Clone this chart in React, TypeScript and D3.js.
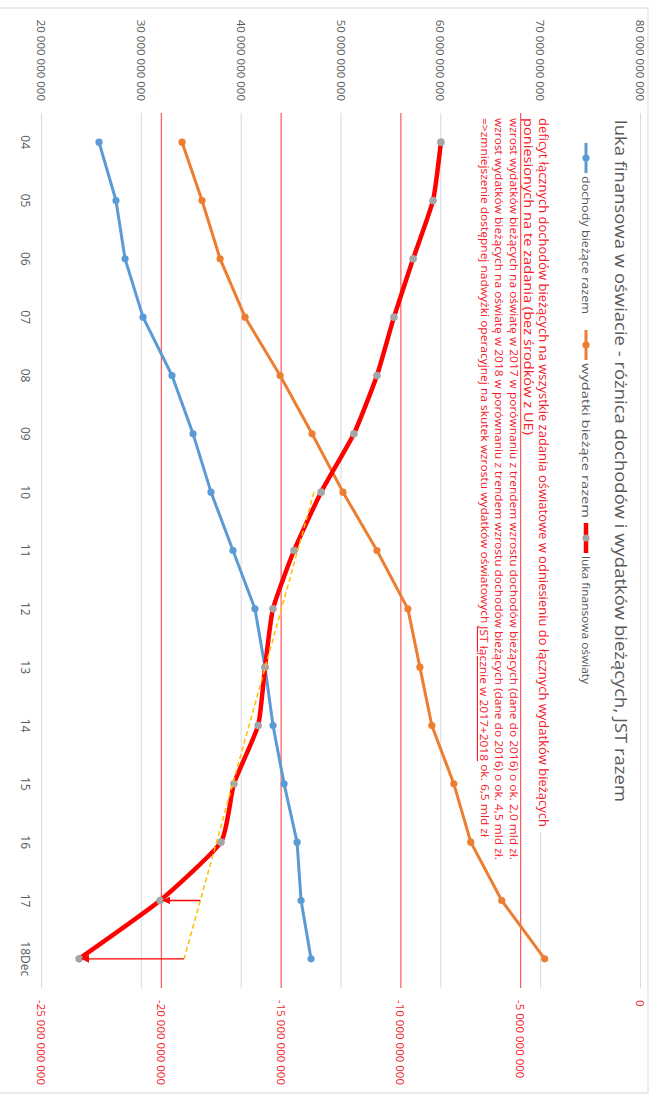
import React from 'react';
import * as d3 from 'd3';

const categories = ['04', '05', '06', '07', '08', '09', '10', '11', '12', '13', '14', '15', '16', '17', '18Dec'];
const dochody = [25.76e9, 27.46e9, 28.37e9, 30.17e9, 33.07e9, 35.18e9, 36.98e9, 39.18e9, 41.38e9, 42.39e9, 43.19e9, 44.3e9, 45.6e9, 46.0e9, 47.0e9];
const wydatki = [34.08e9, 36.08e9, 37.89e9, 40.39e9, 43.9e9, 47.1e9, 50.2e9, 53.6e9, 56.7e9, 57.9e9, 59.1e9, 61.3e9, 63.0e9, 66.1e9, 70.4e9];
const luka = [-8.33e9, -8.66e9, -9.49e9, -10.29e9, -11.0e9, -11.96e9, -13.33e9, -14.46e9, -15.34e9, -15.67e9, -15.96e9, -16.97e9, -17.51e9, -20.05e9, -23.43e9];
const trendCats = ['10', '18Dec'];
const trendValues = [-13.63e9, -19.05e9];
const arrowCats = ['17', '18Dec'];
const leftTicks = [20e9, 30e9, 40e9, 50e9, 60e9, 70e9, 80e9];
const rightTicks = [-25e9, -20e9, -15e9, -10e9, -5e9, 0];
const redGridTicks = [-20e9, -15e9, -10e9, -5e9];

const title = 'luka finansowa w oświacie - różnica dochodów i wydatków bieżących,  JST razem';
const legendLabels = ['dochody bieżące razem', 'wydatki bieżące razem', 'luka finansowa oświaty'];
const noteLines = [
  'deficyt łącznych dochodów bieżących na wszystkie zadania oświatowe w odniesieniu do łącznych wydatków bieżących',
  'poniesionych na te zadania (bez środków z UE)',
  'wzrost wydatków bieżących na oświatę w 2017 w porównaniu z trendem wzrostu dochodów bieżących (dane do 2016) o ok. 2,0 mld zł.',
  'wzrost wydatków bieżących na oświatę w 2018 w porównaniu z trendem wzrostu dochodów bieżących (dane do 2016) o ok. 4,5 mld zł.',
];
const note5a = '=>zmniejszenie dostępnej nadwyżki operacyjnej na skutek wzrostu wydatków oświatowych ';
const note5b = 'JST łącznie w 2017+2018';
const note5c = ' ok. 6,5 mld zł';

const W = 659;
const H = 1096;
const FONT = '"Open Sans", "Noto Sans", sans-serif';
const BLUE = '#5B9BD5';
const ORANGE = '#ED7D31';
const GRAY = '#A5A5A5';
const RED = '#FF0000';
const TXT = '#595959';
const NOTE = '#F2202A';

const locale = d3.formatLocale({ decimal: ',', thousands: ' ', grouping: [3], currency: ['', ''], minus: '-' });
const fmt = locale.format(',');

export default function App() {
  // chart drawn in its native (landscape) frame, then rotated 90° clockwise
  const x = d3.scalePoint<string>().domain(categories).range([113, 988]).padding(0.5);
  const yL = d3.scaleLinear().domain([20e9, 80e9]).range([617.5, 18.5]);
  const yR = d3.scaleLinear().domain([-25e9, 0]).range([617.5, 18.5]);

  const lineL = d3.line<number>().x((_, i) => x(categories[i])!).y((d) => yL(d));
  const lineR = d3
    .line<number>()
    .x((_, i) => x(categories[i])!)
    .y((d) => yR(d))
    .curve(d3.curveCardinal.tension(0.5));

  const t0 = categories.indexOf(trendCats[0]);
  const t1 = categories.indexOf(trendCats[1]);
  const trendAt = (cat: string) => {
    const i = categories.indexOf(cat);
    return trendValues[0] + ((trendValues[1] - trendValues[0]) * (i - t0)) / (t1 - t0);
  };

  const legendX = [143, 330, 523];
  const legendLen = [138, 155, 128];
  const legendColors = [BLUE, ORANGE, RED];
  const legendMarker = [BLUE, ORANGE, GRAY];

  const noteY = [116, 130.5, 145, 159.5];
  const noteLen = [709, 317, 742, 742];
  const noteSize = [12, 12, 11.5, 11.5];
  const noteWeight = [400, 400, 500, 500];

  return (
    <svg width={W} height={H} style={{ position: 'absolute', left: 0, top: 0, background: '#fff' }}>
      <defs>
        <marker id="arr" viewBox="0 0 10 10" refX="9" refY="5" markerWidth="8" markerHeight="8" orient="auto" markerUnits="userSpaceOnUse">
          <path d="M0,0 L10,5 L0,10 z" fill={RED} />
        </marker>
      </defs>
      <rect x={0} y={0} width={W} height={H} fill="#fff" />
      <rect x={-1} y={8} width={649} height={1085} fill="none" stroke="#d9d9d9" strokeWidth={1} />
      <g transform={`translate(${W},0) rotate(90)`} fontFamily={FONT}>
        {/* primary gridlines */}
        {leftTicks.map((t) => (
          <line key={'g' + t} x1={113} x2={988} y1={yL(t)} y2={yL(t)} stroke="#d9d9d9" strokeWidth={1} />
        ))}
        {/* annotation box background */}
        <rect x={113} y={103} width={719} height={33} fill="#fff" />
        {/* secondary (red) gridlines */}
        {redGridTicks.map((t) => (
          <line key={'r' + t} x1={113} x2={988} y1={yR(t)} y2={yR(t)} stroke={RED} strokeWidth={0.8} />
        ))}

        {/* axis labels */}
        {leftTicks.map((t) => (
          <text key={'lt' + t} x={101} y={yL(t)} textAnchor="end" dominantBaseline="central" fontSize={11.5} fill={TXT}>
            {fmt(t)}
          </text>
        ))}
        {rightTicks.map((t) => (
          <text key={'rt' + t} x={1000} y={yR(t)} textAnchor="start" dominantBaseline="central" fontSize={11.5} fill={NOTE}>
            {fmt(t)}
          </text>
        ))}
        {categories.map((c) => (
          <text key={'c' + c} x={x(c)} y={634} textAnchor="middle" dominantBaseline="central" fontSize={12} fill={TXT}>
            {c}
          </text>
        ))}

        {/* series */}
        <path d={lineL(dochody)!} fill="none" stroke={BLUE} strokeWidth={3} strokeLinejoin="round" />
        {dochody.map((d, i) => (
          <circle key={'b' + i} cx={x(categories[i])} cy={yL(d)} r={3.6} fill={BLUE} />
        ))}
        <path d={lineL(wydatki)!} fill="none" stroke={ORANGE} strokeWidth={3} strokeLinejoin="round" />
        {wydatki.map((d, i) => (
          <circle key={'o' + i} cx={x(categories[i])} cy={yL(d)} r={3.6} fill={ORANGE} />
        ))}
        <path d={lineR(luka)!} fill="none" stroke={RED} strokeWidth={4.5} strokeLinejoin="round" />
        {luka.map((d, i) => (
          <circle key={'g' + i} cx={x(categories[i])} cy={yR(d)} r={3.8} fill={GRAY} />
        ))}

        {/* trend and arrows */}
        <line
          x1={x(trendCats[0])}
          y1={yR(trendValues[0])}
          x2={x(trendCats[1])}
          y2={yR(trendValues[1])}
          stroke="#FFC000"
          strokeWidth={1.5}
          strokeDasharray="5,3"
        />
        {arrowCats.map((c) => {
          const i = categories.indexOf(c);
          return (
            <line
              key={'a' + c}
              x1={x(c)}
              y1={yR(trendAt(c))}
              x2={x(c)}
              y2={yR(luka[i]) - 3}
              stroke={RED}
              strokeWidth={1.3}
              markerEnd="url(#arr)"
            />
          );
        })}

        {/* title */}
        <text x={120} y={38} dominantBaseline="central" fontSize={16.5} fill={TXT} textLength={682} lengthAdjust="spacingAndGlyphs">
          {title}
        </text>

        {/* legend */}
        {legendLabels.map((l, i) => (
          <g key={'lg' + i}>
            <line x1={legendX[i]} x2={legendX[i] + 30} y1={73} y2={73} stroke={legendColors[i]} strokeWidth={i === 2 ? 4.5 : 3} />
            <circle cx={legendX[i] + 15} cy={73} r={3.6} fill={legendMarker[i]} />
            <text x={legendX[i] + 33} y={73} dominantBaseline="central" fontSize={11} fill={TXT} textLength={legendLen[i]} lengthAdjust="spacingAndGlyphs">
              {l}
            </text>
          </g>
        ))}

        {/* annotation */}
        {noteLines.map((l, i) => (
          <text key={'n' + i} x={118} y={noteY[i]} dominantBaseline="central" fontSize={noteSize[i]} fontWeight={noteWeight[i]} fill={NOTE} textLength={noteLen[i]} lengthAdjust="spacingAndGlyphs">
            {l}
          </text>
        ))}
        <text x={118} y={174} dominantBaseline="central" fontSize={11.5} fontWeight={500} fill={NOTE} textLength={719} lengthAdjust="spacingAndGlyphs">
          {note5a}
          <tspan style={{ textDecoration: 'underline' }}>{note5b}</tspan>
          {note5c}
        </text>
      </g>
    </svg>
  );
}
